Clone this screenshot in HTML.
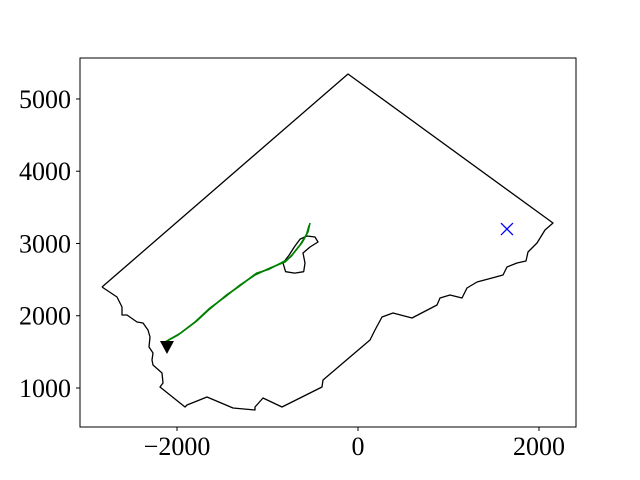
<!DOCTYPE html>
<html><head><meta charset="utf-8"><style>
html,body{margin:0;padding:0;background:#fff;}
svg{display:block;font-family:"Liberation Serif","Times New Roman",serif;}
</style></head><body>
<svg id="chart" width="640" height="480">
<rect width="640" height="480" fill="#fff"/>
</svg>
<script>
const xTicks=[-2000,0,2000];
const yTicks=[1000,2000,3000,4000,5000];
const xTickLabels=["\u22122000","0","2000"];
const yTickLabels=["1000","2000","3000","4000","5000"];
const xDomain=[-3072,2409];
const yDomain=[460,5567];
const outlineX=[-2829,-110,2155,2066,1978,1879,1856,1757,1646,1602,1481,1315,1204,1149,1017,906,873,597,387,265,188,133,-387,-398,-840,-1050,-1138,-1138,-1381,-1669,-1890,-1912,-2188,-2155,-2166,-2265,-2276,-2265,-2309,-2298,-2321,-2376,-2442,-2553,-2608,-2608,-2663,-2829];
const outlineY=[2398,5346,3284,3187,3007,2882,2758,2730,2675,2564,2522,2467,2384,2246,2287,2246,2149,1969,2038,1983,1803,1664,1111,1014,737,862,737,695,723,875,765,737,1014,1069,1208,1318,1387,1484,1567,1706,1803,1900,1913,2010,2010,2121,2259,2398];
const islandX=[-700,-760,-829,-800,-700,-600,-586,-608,-530,-442,-475,-564,-640,-700];
const islandY=[2960,2840,2730,2610,2590,2610,2730,2868,2951,3021,3090,3104,3060,2960];
const trackX=[-2133,-1989,-1801,-1635,-1470,-1304,-1138,-972,-807,-729,-641,-553,-530];
const trackY=[1637,1733,1913,2107,2259,2425,2564,2661,2744,2841,2979,3159,3284];
const track2X=[-2100,-1960,-1780,-1650,-1450,-1320,-1120,-990,-790,-740,-620,-570,-540];
const track2Y=[1660,1760,1930,2080,2290,2400,2590,2640,2770,2820,3010,3120,3250];
const startPt=[-2111,1567];
const targetPt=[1646,3200];

const L=80,R=576,T=58,B=427;
const sx=v=>L+(v-xDomain[0])/(xDomain[1]-xDomain[0])*(R-L);
const sy=v=>B-(v-yDomain[0])/(yDomain[1]-yDomain[0])*(B-T);
const svg=document.getElementById('chart');
const NS='http://www.w3.org/2000/svg';
function mk(tag,attrs){const e=document.createElementNS(NS,tag);for(const k in attrs)e.setAttribute(k,attrs[k]);svg.appendChild(e);return e;}
function pts(xs,ys){return xs.map((x,i)=>sx(x).toFixed(1)+','+sy(ys[i]).toFixed(1)).join(' ');}

let e=mk('polyline',{points:pts(outlineX,outlineY),fill:'none',stroke:'#000','stroke-width':1.3,'stroke-linejoin':'round'});


e=mk('polyline',{points:pts(islandX,islandY),fill:'none',stroke:'#000','stroke-width':1.3,'stroke-linejoin':'round'});


e=mk('polyline',{points:pts(track2X,track2Y),fill:'none',stroke:'green','stroke-width':1.6,'stroke-linejoin':'round'});


e=mk('polyline',{points:pts(trackX,trackY),fill:'none',stroke:'green','stroke-width':1.6,'stroke-linejoin':'round'});


const px=sx(startPt[0]),py=sy(startPt[1]);
e=mk('polygon',{points:`${px-7},${py-6} ${px+7},${py-6} ${px},${py+7}`,fill:'#000'});


const tx=sx(targetPt[0]),ty=sy(targetPt[1]);
e=mk('path',{d:`M${tx-6},${ty-6}L${tx+6},${ty+6}M${tx-6},${ty+6}L${tx+6},${ty-6}`,stroke:'blue','stroke-width':1.3,fill:'none'});



e=mk('rect',{x:L,y:T,width:R-L,height:B-T,fill:'none',stroke:'#000','stroke-width':1});


xTicks.forEach((v,i)=>{
  const x=sx(v);
  let t=mk('line',{x1:x,x2:x,y1:B,y2:B+4,stroke:'#000','stroke-width':1});
  
  
  let l=mk('text',{x:x,y:B+28,'text-anchor':'middle','font-size':26,fill:'#000'});
  l.textContent=xTickLabels[i];
  
  
});
yTicks.forEach((v,i)=>{
  const y=sy(v);
  let t=mk('line',{x1:L-4,x2:L,y1:y,y2:y,stroke:'#000','stroke-width':1});
  
  
  let l=mk('text',{x:L-9,y:y+9,'text-anchor':'end','font-size':26,fill:'#000'});
  l.textContent=yTickLabels[i];
  
  
});
</script>
</body></html>
